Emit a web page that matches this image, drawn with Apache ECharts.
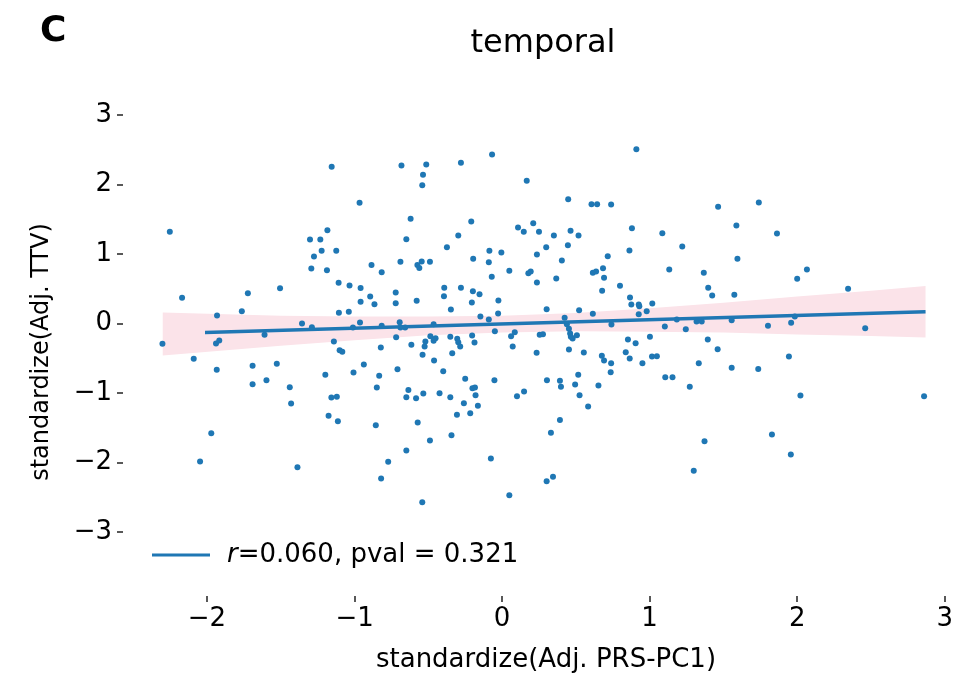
<!DOCTYPE html>
<html>
<head>
<meta charset="utf-8">
<script src="https://cdn.jsdelivr.net/npm/echarts@6/dist/echarts.min.js"></script>
<style>html,body{margin:0;padding:0;background:#fff}#c{width:956px;height:678px}</style>
</head>
<body>
<div id="c"></div>
<script>
// ---- data ----
const xTicks = [-2, -1, 0, 1, 2, 3];
const yTicks = [-3, -2, -1, 0, 1, 2, 3];
const pointsX = [
-1.155,-0.966,-2.252,-1.184,-1.302,-1.232,-1.223,-1.124,-1.275,-0.682,
-0.514,-0.536,-0.541,-0.279,-0.068,0.167,-0.620,-0.209,0.108,0.211,
0.147,0.250,0.351,-0.297,-0.649,-0.374,-0.086,-0.005,0.299,0.236,
-0.196,-0.090,-0.689,-0.545,-0.489,-0.574,-0.561,-0.885,0.910,0.448,
0.606,0.644,0.739,1.464,1.740,0.464,0.518,0.880,1.086,0.446,
0.863,1.221,1.588,0.405,0.716,1.595,1.863,-1.293,-1.187,-1.108,
-1.034,-0.959,-2.169,-1.723,-1.505,-0.959,-1.764,-1.932,-1.106,-1.039,
-1.356,-1.289,-1.011,-0.963,-1.610,-2.302,-1.939,-1.917,-1.140,-1.101,
-1.083,-2.090,-1.934,-1.691,-1.527,-1.198,-1.007,-1.691,-1.597,-1.439,
-0.816,-0.894,-0.865,-0.721,-0.721,-0.579,-0.392,-0.394,-0.279,-0.198,
-0.153,-0.205,-0.347,-0.070,0.049,0.178,0.194,0.236,0.367,-0.025,
-0.027,0.302,-0.694,-0.816,-0.689,-0.657,-0.464,-0.147,-0.090,-0.049,
-0.718,-0.486,-0.451,-0.464,-0.520,-0.525,-0.351,-0.304,-0.297,-0.284,
-0.203,-0.187,0.061,0.086,0.255,0.277,-0.822,-0.615,-0.539,-0.338,
0.072,0.234,-0.461,-0.937,-0.709,-0.399,-0.833,-0.250,-0.052,0.304,
0.392,-0.849,-0.635,-0.201,-0.184,0.149,0.615,0.637,0.684,0.691,
0.678,0.799,1.133,1.367,1.397,1.424,1.574,0.867,0.876,0.926,
0.930,1.018,0.980,0.926,0.522,0.615,0.424,0.439,0.453,0.461,
0.466,0.478,0.507,0.741,1.103,1.184,1.245,1.318,1.353,1.556,
0.853,0.905,1.002,1.394,1.461,0.453,0.554,0.676,0.691,0.739,
0.838,0.865,0.951,1.016,1.049,1.333,0.736,1.556,1.736,0.516,
1.106,1.155,0.495,0.653,0.399,1.272,2.066,2.000,2.345,1.802,
1.984,1.959,2.461,1.944,-1.430,-1.157,-1.120,-1.176,-1.113,-1.971,
-2.047,-1.387,-0.649,-0.583,-0.534,-0.424,-0.351,-0.180,-0.259,-0.164,
-0.306,-0.216,0.101,-0.856,-0.572,-0.489,-0.343,-0.649,-0.772,-0.820,
-0.076,0.331,0.392,0.302,0.345,0.049,-0.541,0.525,0.583,1.372,
1.299,2.022,2.860,1.829,1.957
];
const pointsY = [
2.255,1.737,1.319,1.342,1.209,1.209,1.046,1.046,0.964,2.273,
2.288,2.140,1.990,2.312,2.432,2.053,1.506,1.468,1.381,1.443,
1.319,1.319,1.266,1.266,1.213,1.098,1.046,1.022,1.098,0.993,
0.931,0.882,0.888,0.892,0.888,0.842,0.799,0.842,2.508,1.788,
1.717,1.717,1.712,1.679,1.741,1.334,1.266,1.371,1.299,1.127,
1.050,1.108,1.410,0.906,0.968,0.931,1.295,0.791,0.767,0.586,
0.547,0.511,0.370,0.436,0.508,0.314,0.177,0.115,0.154,0.168,
0.000,-0.053,-0.058,0.014,-0.163,-0.292,-0.288,-0.245,-0.259,-0.384,
-0.407,-0.508,-0.666,-0.609,-0.580,-0.738,-0.705,-0.873,-0.816,-0.917,
0.738,0.388,0.278,0.446,0.292,0.327,0.514,0.393,0.514,0.465,
0.422,0.302,0.201,0.672,0.758,0.724,0.748,0.590,0.647,0.331,
0.144,0.206,0.019,-0.033,-0.058,-0.058,-0.010,0.101,0.058,-0.111,
-0.197,-0.183,-0.212,-0.249,-0.259,-0.331,-0.191,-0.220,-0.269,-0.331,
-0.173,-0.273,-0.183,-0.125,-0.163,-0.154,-0.345,-0.306,-0.450,-0.427,
-0.331,-0.422,-0.532,-0.590,-0.658,-0.686,-0.753,-0.796,-0.816,-0.816,
-0.824,-0.921,-0.957,-0.931,-0.921,-0.978,0.729,0.748,0.796,0.658,
0.471,0.542,0.777,0.729,0.514,0.403,0.413,0.374,0.273,0.273,
0.249,0.288,0.177,0.134,0.191,0.140,0.082,-0.010,-0.076,-0.144,
-0.191,-0.216,-0.168,-0.014,-0.043,0.058,-0.082,0.029,0.029,0.047,
-0.230,-0.283,-0.191,-0.230,-0.370,-0.374,-0.417,-0.465,-0.532,-0.571,
-0.413,-0.504,-0.571,-0.475,-0.471,-0.571,-0.701,-0.637,-0.655,-0.738,
-0.773,-0.773,-0.878,-0.892,-0.911,-0.911,0.777,0.643,0.499,-0.033,
0.101,0.010,-0.068,-0.475,-1.151,-1.065,-1.055,-1.328,-1.406,-1.578,
-1.986,-2.068,-1.060,-1.075,-1.007,-1.003,-1.060,-1.032,-1.147,-1.184,
-1.314,-1.291,-1.046,-1.463,-1.424,-1.683,-1.607,-1.827,-1.990,-2.230,
-1.942,-1.573,-1.388,-2.269,-2.206,-2.471,-2.571,-1.032,-1.194,-1.694,
-2.119,-1.036,-1.046,-1.597,-1.885
];
const fitX = [-2.30, 2.87];
const fitY = [-0.148, 0.168];
const bandX = [-2.30, -1.5, -1.0, -0.5, 0.0, 0.5, 1.0, 1.5, 2.0, 2.5, 2.87];
const bandUpper = [0.16, 0.11, 0.10, 0.10, 0.11, 0.15, 0.22, 0.30, 0.39, 0.47, 0.54];
const bandLower = [-0.46, -0.32, -0.24, -0.17, -0.13, -0.11, -0.12, -0.13, -0.16, -0.18, -0.20];
const legendText = 'r=0.060, pval = 0.321';

// ---- build ----
const FONT = 'DejaVu Sans';
const pts = pointsX.map((x, i) => [x, pointsY[i]]);
const fitData = fitX.map((x, i) => [x, fitY[i]]);
const minus = v => String(v).replace('-', '\u2212');

const chart = echarts.init(document.getElementById('c'), null, {renderer: 'canvas'});
chart.setOption({
  backgroundColor: '#ffffff',
  animation: false,
  grid: {left: 207, right: 9, top: 115, bottom: 146, containLabel: false},
  xAxis: {
    type: 'value', min: xTicks[0], max: xTicks[xTicks.length - 1], interval: 1,
    offset: 64,
    axisLine: {show: false, onZero: false},
    axisTick: {show: true, length: 6, lineStyle: {color: '#222', width: 1.5}},
    axisLabel: {fontFamily: FONT, fontSize: 26, color: '#000', margin: 10, formatter: minus},
    splitLine: {show: false}
  },
  yAxis: {
    type: 'value', min: yTicks[0], max: yTicks[yTicks.length - 1], interval: 1,
    offset: 84,
    axisLine: {show: false, onZero: false},
    axisTick: {show: true, length: 6, lineStyle: {color: '#222', width: 1.5}},
    axisLabel: {fontFamily: FONT, fontSize: 26, color: '#000', margin: 11, formatter: minus},
    splitLine: {show: false}
  },
  legend: {
    data: [legendText],
    left: 147, top: 537,
    icon: 'rect', itemWidth: 58, itemHeight: 3,
    formatter: () => '{i|r}=0.060, pval = 0.321',
    textStyle: {
      fontFamily: FONT, fontSize: 26, color: '#000',
      rich: {i: {fontFamily: FONT, fontSize: 26, fontStyle: 'italic', color: '#000', padding: [0, 0, 0, 12]}}
    }
  },
  graphic: [
    {type: 'text', left: 40, top: 14, style: {text: 'C', font: 'bold 36px "DejaVu Sans"', fill: '#000'}},
    {type: 'text', x: 543, y: 44, style: {text: 'temporal', font: '32px "DejaVu Sans"', fill: '#000', textAlign: 'center', textVerticalAlign: 'middle'}},
    {type: 'text', x: 546, y: 660, style: {text: 'standardize(Adj. PRS-PC1)', font: '26px "DejaVu Sans"', fill: '#000', textAlign: 'center', textVerticalAlign: 'middle'}},
    {type: 'text', x: 42, y: 352, rotation: Math.PI / 2, style: {text: 'standardize(Adj. TTV)', font: '24px "DejaVu Sans"', fill: '#000', textAlign: 'center', textVerticalAlign: 'middle'}}
  ],
  series: [
    {type: 'custom', name: 'band', data: [[bandX[0], bandLower[0]]], silent: true, z: 1, clip: false,
     renderItem: function (params, api) {
       const poly = [];
       for (let i = 0; i < bandX.length; i++) poly.push(api.coord([bandX[i], bandUpper[i]]));
       for (let i = bandX.length - 1; i >= 0; i--) poly.push(api.coord([bandX[i], bandLower[i]]));
       return {type: 'polygon', shape: {points: poly}, style: {fill: '#fbe3e9'}};
     }},
    {type: 'scatter', name: 'points', data: pts, symbolSize: 6, clip: false,
     itemStyle: {color: '#1f77b4', opacity: 1}, z: 3},
    {type: 'line', name: legendText, data: fitData, symbol: 'none', clip: false,
     lineStyle: {color: '#1f77b4', width: 3.4}, itemStyle: {color: '#1f77b4'}, z: 4}
  ]
});
</script>
</body>
</html>
